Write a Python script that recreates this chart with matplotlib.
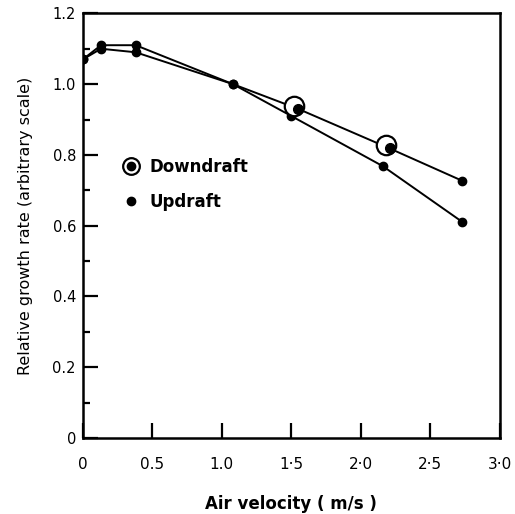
import matplotlib
matplotlib.use("Agg")
import matplotlib.pyplot as plt
from matplotlib.lines import Line2D
from matplotlib.legend_handler import HandlerTuple
from matplotlib.ticker import MultipleLocator, FixedLocator

# Data
down_x = [0.0, 0.13, 0.38, 1.08, 1.55, 2.21, 2.73]
down_y = [1.07, 1.11, 1.11, 1.00, 0.93, 0.818, 0.727]
up_x = [0.0, 0.13, 0.38, 1.08, 1.50, 2.16, 2.73]
up_y = [1.07, 1.10, 1.09, 1.00, 0.91, 0.768, 0.611]
circle_x = [1.52, 2.18]
circle_y = [0.937, 0.828]

xticks = [0, 0.5, 1.0, 1.5, 2.0, 2.5, 3.0]
xticklabels = ["0", "0.5", "1.0", "1·5", "2·0", "2·5", "3·0"]
yticks = [0, 0.2, 0.4, 0.6, 0.8, 1.0, 1.2]
yticklabels = ["0", "0.2", "0.4", "0.6", "0.8", "1.0", "1.2"]

plt.rcParams['font.family'] = ['DejaVu Sans']

fig = plt.figure(figsize=(5.15, 5.14), dpi=100)
ax = fig.add_axes([0.161, 0.148, 0.809, 0.826])

ax.plot(up_x, up_y, color='black', lw=1.4, marker='o', ms=6, mfc='black', mec='black', zorder=3)
ax.plot(down_x, down_y, color='black', lw=1.4, marker='o', ms=6, mfc='black', mec='black', zorder=3)
ax.plot(circle_x, circle_y, ls='none', marker='o', ms=14, mfc='white', mec='black', mew=1.6, zorder=4)
ax.plot([x + 0.03 for x in circle_x], [y - 0.008 for y in circle_y], ls='none', marker='o', ms=7,
        mfc='black', mec='black', zorder=5)

ax.set_xlim(0, 3.0)
ax.set_ylim(0, 1.2)

ax.xaxis.set_major_locator(FixedLocator(xticks))
ax.set_xticklabels(xticklabels)
ax.yaxis.set_major_locator(FixedLocator(yticks))
ax.set_yticklabels(yticklabels)
ax.yaxis.set_minor_locator(MultipleLocator(0.1))

ax.tick_params(axis='x', which='major', direction='in', length=11, width=1.6, labelsize=11, pad=14)
ax.tick_params(axis='y', which='major', direction='in', length=11, width=1.6, labelsize=10.5, pad=5)
ax.tick_params(axis='y', which='minor', direction='in', length=5, width=1.6)

for s in ax.spines.values():
    s.set_linewidth(1.8)

ax.set_xlabel("Air velocity ( m/s )", fontsize=12, fontweight='bold', labelpad=16)
ax.set_ylabel("Relative growth rate (arbitrary scale)", fontsize=11.5, labelpad=14)

h_down = (Line2D([], [], ls='none', marker='o', ms=12, mfc='white', mec='black', mew=1.6),
          Line2D([], [], ls='none', marker='o', ms=6, mfc='black', mec='black'))
h_up = Line2D([], [], ls='none', marker='o', ms=6, mfc='black', mec='black')
leg = ax.legend([h_down, h_up], ["Downdraft", "Updraft"],
                handler_map={tuple: HandlerTuple(ndivide=1, pad=0)},
                loc='upper left', bbox_to_anchor=(0.06, 0.695), frameon=False,
                prop={'size': 12, 'weight': 'bold'}, handlelength=1.0, handletextpad=0.6,
                labelspacing=1.0)

fig.savefig("out.png", dpi=100, facecolor='white')
